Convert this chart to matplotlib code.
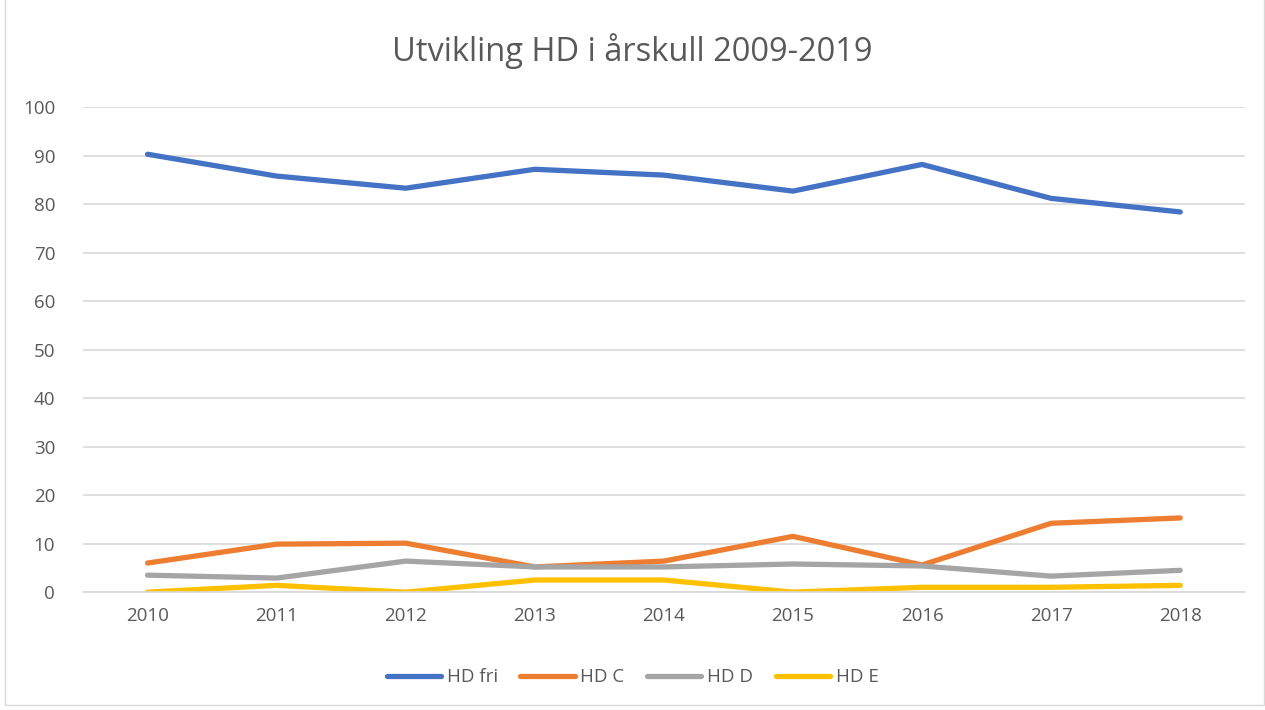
import matplotlib
matplotlib.use("Agg")
from matplotlib import pyplot as plt
from matplotlib.patches import Rectangle

years = ["2010", "2011", "2012", "2013", "2014", "2015", "2016", "2017", "2018"]
hd_fri = [90.3, 85.8, 83.3, 87.2, 86.0, 82.7, 88.2, 81.2, 78.4]
hd_c = [6.0, 9.9, 10.1, 5.2, 6.4, 11.5, 5.6, 14.2, 15.3]
hd_d = [3.5, 2.9, 6.4, 5.2, 5.2, 5.8, 5.4, 3.3, 4.5]
hd_e = [0.0, 1.4, 0.0, 2.5, 2.5, 0.0, 1.0, 1.0, 1.4]

series = [("HD fri", hd_fri, "#4472C4"),
          ("HD C", hd_c, "#ED7D31"),
          ("HD D", hd_d, "#A5A5A5"),
          ("HD E", hd_e, "#FFC000")]

plt.rcParams['font.family'] = ['Open Sans', 'DejaVu Sans']
tekst = "#595959"

fig = plt.figure(figsize=(12.65, 7.1), dpi=100)
ax = fig.add_axes([0.0656, 0.166, 0.9184, 0.683])

x = list(range(len(years)))
for navn, verdier, farge in series:
    ax.plot(x, verdier, color=farge, linewidth=3.8, label=navn,
            solid_capstyle='round', solid_joinstyle='round')

ax.set_xlim(-0.5, len(years) - 0.5)
ax.set_ylim(0, 100)
ax.set_yticks(range(0, 101, 10))
ax.set_xticks(x)
ax.set_xticklabels(years)
ax.tick_params(axis='both', length=0, labelsize=13.5, colors=tekst)
ax.tick_params(axis='x', pad=11)
ax.tick_params(axis='y', pad=20)
ax.grid(axis='y', color="#D9D9D9", linewidth=1.2)
ax.set_axisbelow(True)
for side in ['top', 'right', 'left']:
    ax.spines[side].set_visible(False)
ax.spines['bottom'].set_color("#D9D9D9")
ax.spines['bottom'].set_linewidth(1.2)

fig.text(0.5, 0.928, "Utvikling HD i årskull 2009-2019", ha='center', va='center',
         fontsize=23.5, color=tekst)

fig.legend(loc='center', bbox_to_anchor=(0.5, 0.046), ncol=4, frameon=False,
           fontsize=13.5, labelcolor=tekst, handlelength=2.9, columnspacing=1.2,
           handletextpad=0.3)

fig.patches.append(Rectangle((0.004, 0.007), 0.995, 1.2, transform=fig.transFigure,
                             fill=False, edgecolor="#D9D9D9", linewidth=1))

fig.savefig("out.png", dpi=100)
